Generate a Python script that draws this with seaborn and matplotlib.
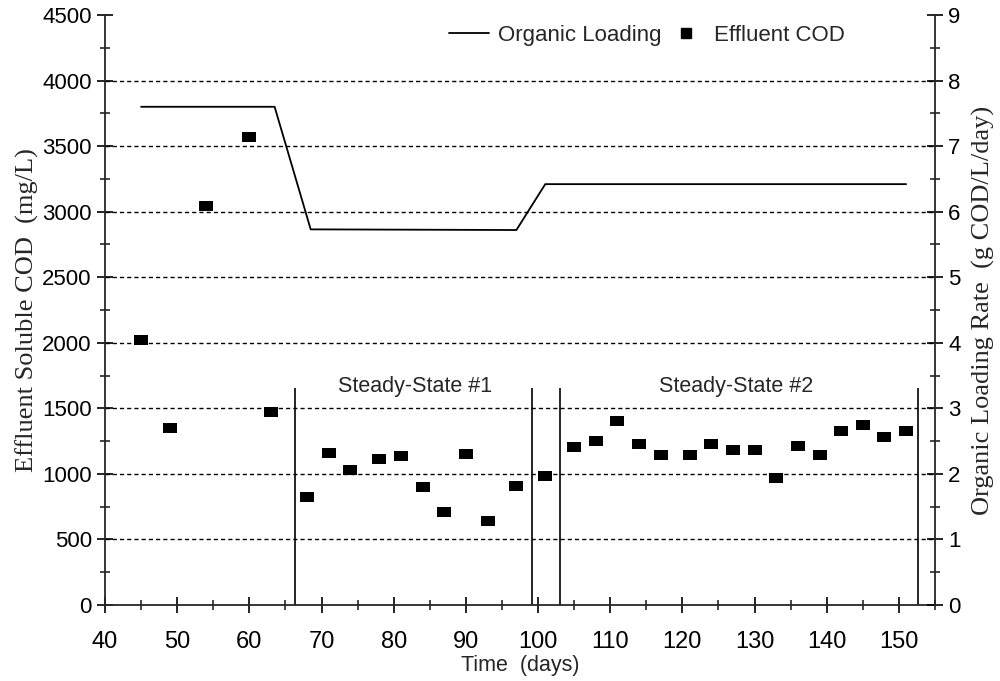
import numpy as np
import pandas as pd
import matplotlib
matplotlib.use("Agg")
import matplotlib.pyplot as plt
import seaborn as sns
from matplotlib.ticker import MultipleLocator
from matplotlib.lines import Line2D

# ---- data ----
cod_days = [45, 49, 54, 60, 63, 68, 71, 74, 78, 81, 84, 87, 90, 93, 97, 101,
            105, 108, 111, 114, 117, 121, 124, 127, 130, 133, 136, 139, 142, 145, 148, 151]
cod_values = [2025, 1350, 3040, 3570, 1475, 825, 1160, 1030, 1115, 1135, 900, 707, 1155, 640, 908, 986,
              1203, 1253, 1403, 1225, 1145, 1145, 1225, 1182, 1182, 966, 1213, 1145, 1330, 1373, 1280, 1330]

load_days = [45, 63.5, 68.5, 97, 101, 151]
load_values = [7.6, 7.6, 5.73, 5.72, 6.42, 6.42]

boundary_days = [66.3, 99.2, 103.0, 152.7]
boundary_top = 1655
state_labels = ["Steady-State #1", "Steady-State #2"]
state_label_days = [82.9, 127.5]

grid_levels = [500, 1000, 1500, 2000, 2500, 3000, 3500, 4000]

cod_df = pd.DataFrame({"day": cod_days, "cod": cod_values})
load_df = pd.DataFrame({"day": load_days, "load": load_values})

# ---- style ----
sns.set_theme(style="ticks")
plt.rcParams["font.family"] = ["Liberation Sans", "DejaVu Sans"]
plt.rcParams["axes.linewidth"] = 1.3

fig = plt.figure(figsize=(10, 6.81), dpi=100)
fig.patch.set_facecolor("white")
ax = fig.add_axes([0.105, 1 - 605 / 681, 0.830, 590 / 681])
ax2 = ax.twinx()

rect = np.array([(-1.3, -1.0), (1.3, -1.0), (1.3, 1.0), (-1.3, 1.0), (-1.3, -1.0)])

for lvl in grid_levels:
    ax.axhline(lvl, color="black", lw=1.0, ls=(0, (3, 2.2)), zorder=1)

ax.vlines(boundary_days, 0, boundary_top, color="black", lw=1.2, zorder=2)

sns.scatterplot(data=cod_df, x="day", y="cod", ax=ax, marker=rect, s=95,
                color="black", edgecolor="black", linewidth=0, zorder=3, legend=False)
sns.lineplot(data=load_df, x="day", y="load", ax=ax2, color="black", lw=1.3,
             legend=False, zorder=3)

for lab, d in zip(state_labels, state_label_days):
    ax.text(d, boundary_top + 10, lab, ha="center", va="center", fontsize=15.5)

ax.set_xlim(40, 155)
ax.set_ylim(0, 4500)
ax2.set_ylim(0, 9)

ax.xaxis.set_major_locator(MultipleLocator(10))
ax.xaxis.set_minor_locator(MultipleLocator(5))
ax.yaxis.set_major_locator(MultipleLocator(500))
ax.yaxis.set_minor_locator(MultipleLocator(250))
ax2.yaxis.set_major_locator(MultipleLocator(1))
ax2.yaxis.set_minor_locator(MultipleLocator(0.5))

for a in (ax, ax2):
    a.tick_params(which="major", direction="inout", length=12, width=1.2, labelsize=16, colors="black")
    a.tick_params(which="minor", direction="inout", length=7, width=1.2)
    a.spines["top"].set_visible(False)
ax.tick_params(axis="x", pad=13, labelsize=17)
ax.spines["right"].set_visible(False)
ax2.spines["left"].set_visible(False)
ax2.spines["bottom"].set_visible(False)

ax.set_xlabel("Time  (days)", fontsize=15.5, labelpad=1)
ax.set_ylabel("Effluent Soluble COD  (mg/L)", fontsize=19,
              family=["Liberation Serif", "DejaVu Serif"], labelpad=2)
ax2.set_ylabel("Organic Loading Rate  (g COD/L/day)", fontsize=19,
               family=["Liberation Serif", "DejaVu Serif"], labelpad=8)

# legend
handles = [Line2D([], [], color="black", lw=1.3),
           Line2D([], [], color="black", marker="s", ls="none", markersize=7)]
ax.legend(handles, ["Organic Loading", "Effluent COD"], loc="upper right",
          bbox_to_anchor=(0.892, 0.983), ncol=2, frameon=False, fontsize=16,
          handlelength=1.8, columnspacing=0.2, handletextpad=0.4,
          borderaxespad=0, borderpad=0)

fig.savefig("out.png", dpi=100, facecolor="white")
